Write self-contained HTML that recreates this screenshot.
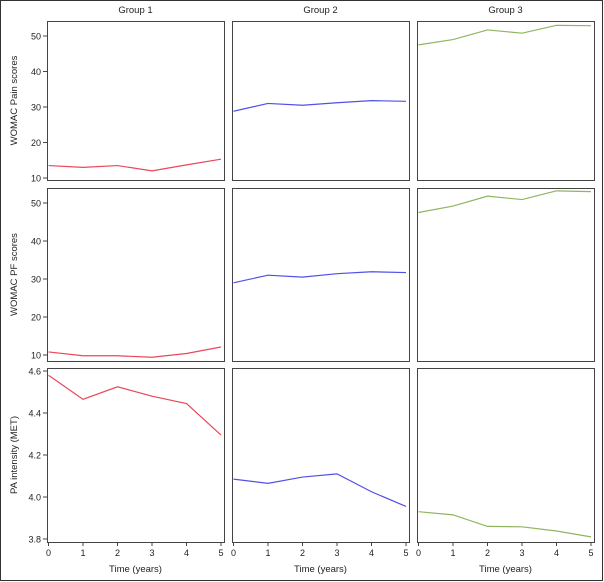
<!DOCTYPE html>
<html><head><style>
body{margin:0;background:#fff}
svg{display:block;font-family:"Liberation Sans",sans-serif}
</style></head><body>
<svg id="s" width="604" height="582" xmlns="http://www.w3.org/2000/svg"></svg>
<script>
const s=document.getElementById('s');let h='';
h+='<rect x="0.5" y="0.5" width="602" height="580" fill="#fff" stroke="#333" stroke-width="1"/>';
const cols=[[47,224],[232,409],[417,594]];
const rows=[[21,180],[188,361],[368,542]];
const cc=['#e8485a','#5050e8','#8fb560'];
const titles=['Group 1','Group 2','Group 3'];
const ylab=['WOMAC Pain scores','WOMAC PF scores','PA intensity (MET)'];
const sc=[[50,36,10,178],[50,203,10,355],[4.6,371,3.8,539]];
const ticks=[[10,20,30,40,50],[10,20,30,40,50],[3.8,4.0,4.2,4.4,4.6]];
const data=[
[[13.5,13,13.5,12,13.7,15.3],[28.8,31,30.5,31.2,31.8,31.6],[47.5,49,51.7,50.8,53,52.9]],
[[10.8,9.8,9.8,9.4,10.4,12.1],[29,31,30.5,31.4,31.9,31.7],[47.5,49.2,51.8,50.9,53.2,53.0]],
[[4.58,4.465,4.525,4.48,4.445,4.295],[4.085,4.065,4.095,4.11,4.025,3.955],[3.93,3.915,3.86,3.858,3.838,3.81]]];
for(let c=0;c<3;c++){const[l,r]=cols[c];h+=`<text x="${(l+r)/2}" y="13" font-size="9.5" text-anchor="middle" fill="#222">${titles[c]}</text>`;}
for(let ri=0;ri<3;ri++){const[t,b]=rows[ri];const[v1,y1,v2,y2]=sc[ri];const Y=v=>y1+(v-v1)*(y2-y1)/(v2-v1);
 for(let c=0;c<3;c++){const[l,r]=cols[c];
  h+=`<rect x="${l+0.5}" y="${t+0.5}" width="${r-l}" height="${b-t}" fill="none" stroke="#444" stroke-width="1"/>`;
  const X=i=>l+1.5+i*(r-l-4.5)/5;
  h+=`<polyline fill="none" stroke="${cc[c]}" stroke-width="1.2" points="${data[ri][c].map((v,i)=>X(i)+','+Y(v)).join(' ')}"/>`;
  if(ri==2){for(let i=0;i<6;i++){h+=`<line x1="${X(i)}" x2="${X(i)}" y1="${b}" y2="${b+4}" stroke="#444"/><text x="${X(i)}" y="${b+14}" font-size="9" text-anchor="middle" fill="#222">${i}</text>`;}
   h+=`<text x="${(l+r)/2}" y="${b+30}" font-size="9.5" text-anchor="middle" fill="#222">Time (years)</text>`;}
 }
 for(const v of ticks[ri]){const y=Y(v);h+=`<line x1="43" x2="47" y1="${y}" y2="${y}" stroke="#444"/><text x="41" y="${y+3.5}" font-size="9" text-anchor="end" fill="#222">${ri==2?v.toFixed(1):v}</text>`;}
 const my=(t+b)/2;h+=`<text transform="translate(17,${my}) rotate(-90)" font-size="9.5" text-anchor="middle" fill="#222">${ylab[ri]}</text>`;
}
s.innerHTML=h;
</script>
</body></html>
